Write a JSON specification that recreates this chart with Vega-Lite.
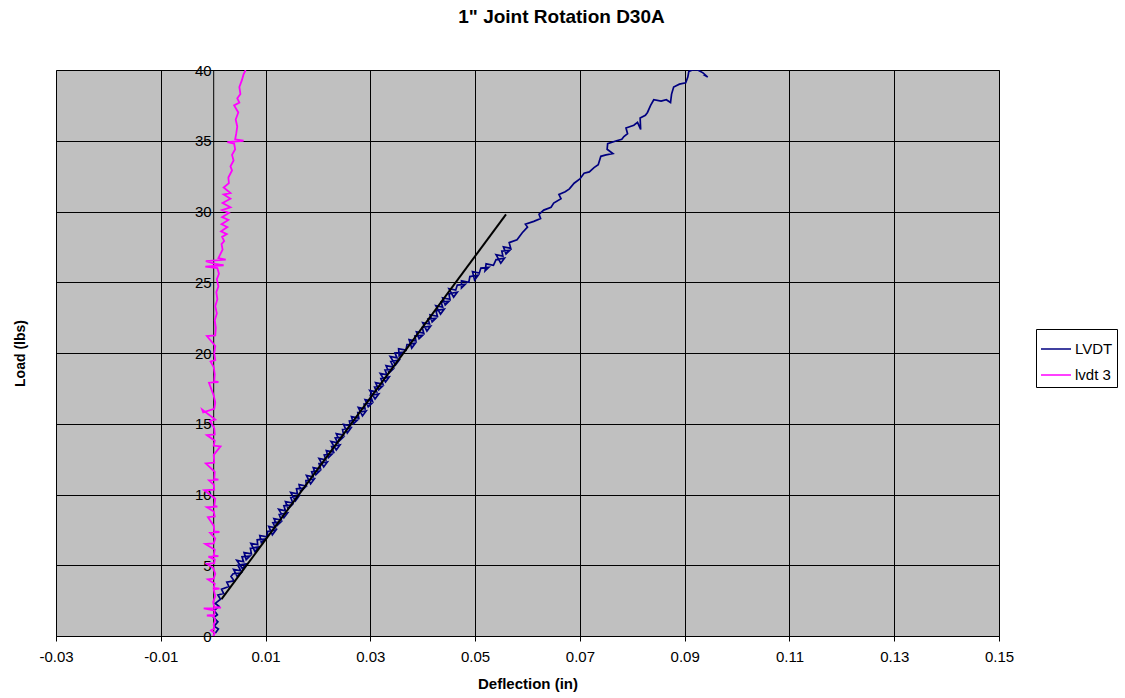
{
"$schema": "https://vega.github.io/schema/vega-lite/v6.json",
"width": 943, "height": 566,
"autosize": {"type": "none"},
"padding": {"left": 56, "top": 70, "right": 126, "bottom": 62},
"background": "white",
"title": {"text": "1\" Joint Rotation D30A", "font": "Liberation Sans", "fontSize": 19, "fontWeight": "bold", "color": "black", "anchor": "middle", "dx": 34, "offset": 21, "baseline": "alphabetic"},
"config": {"view": {"fill": "#C0C0C0", "stroke": "#808080", "strokeWidth": 1}, "font": "Liberation Sans"},
"datasets": {
"lvdt": [
{"x":0.0004,"y":0.2},{"x":0.0010,"y":0.5},{"x":0.0002,"y":0.7},{"x":0.0009,"y":1.0},{"x":0.0001,"y":1.3},{"x":0.0008,"y":1.5},{"x":0.0002,"y":1.8},{"x":0.0011,"y":2.1},{"x":0.0004,"y":2.3},{"x":0.0014,"y":2.6},{"x":0.0009,"y":2.9},{"x":0.0020,"y":3.0},{"x":0.0016,"y":3.3},{"x":0.0030,"y":3.5},{"x":0.0026,"y":3.8},{"x":0.0040,"y":3.9},{"x":0.0034,"y":4.2},
{"x":0.0038,"y":4.4},{"x":0.0053,"y":4.45},{"x":0.0046,"y":4.2},{"x":0.0039,"y":4.7},{"x":0.0053,"y":4.6},
{"x":0.0047,"y":5.0},{"x":0.0063,"y":5.1},{"x":0.0056,"y":4.75},{"x":0.0045,"y":5.35},{"x":0.0058,"y":5.25},
{"x":0.0055,"y":5.6},{"x":0.0070,"y":5.65},{"x":0.0063,"y":5.4},{"x":0.0059,"y":5.9},{"x":0.0073,"y":5.8},
{"x":0.0071,"y":6.2},{"x":0.0087,"y":6.3},{"x":0.0080,"y":5.95},{"x":0.0072,"y":6.55},{"x":0.0085,"y":6.45},
{"x":0.0084,"y":6.8},{"x":0.0099,"y":6.85},{"x":0.0092,"y":6.6},{"x":0.0089,"y":7.1},{"x":0.0103,"y":7.0},
{"x":0.0104,"y":7.4},{"x":0.0120,"y":7.5},{"x":0.0113,"y":7.15},{"x":0.0106,"y":7.75},{"x":0.0119,"y":7.65},
{"x":0.0114,"y":8.0},{"x":0.0129,"y":8.05},{"x":0.0122,"y":7.8},{"x":0.0116,"y":8.3},{"x":0.0130,"y":8.2},
{"x":0.0126,"y":8.6},{"x":0.0142,"y":8.7},{"x":0.0135,"y":8.35},{"x":0.0125,"y":8.95},{"x":0.0138,"y":8.85},
{"x":0.0135,"y":9.2},{"x":0.0150,"y":9.25},{"x":0.0143,"y":9.0},{"x":0.0138,"y":9.5},{"x":0.0152,"y":9.4},
{"x":0.0148,"y":9.8},{"x":0.0164,"y":9.9},{"x":0.0157,"y":9.55},{"x":0.0148,"y":10.15},{"x":0.0161,"y":10.05},
{"x":0.0159,"y":10.4},{"x":0.0174,"y":10.45},{"x":0.0167,"y":10.2},{"x":0.0164,"y":10.7},{"x":0.0178,"y":10.6},
{"x":0.0177,"y":11.0},{"x":0.0193,"y":11.1},{"x":0.0186,"y":10.75},{"x":0.0178,"y":11.35},{"x":0.0191,"y":11.25},
{"x":0.0188,"y":11.6},{"x":0.0203,"y":11.65},{"x":0.0196,"y":11.4},{"x":0.0191,"y":11.9},{"x":0.0205,"y":11.8},
{"x":0.0202,"y":12.2},{"x":0.0218,"y":12.3},{"x":0.0211,"y":11.95},{"x":0.0202,"y":12.55},{"x":0.0215,"y":12.45},
{"x":0.0212,"y":12.8},{"x":0.0227,"y":12.85},{"x":0.0220,"y":12.6},{"x":0.0216,"y":13.1},{"x":0.0230,"y":13.0},
{"x":0.0226,"y":13.4},{"x":0.0242,"y":13.5},{"x":0.0235,"y":13.15},{"x":0.0225,"y":13.75},{"x":0.0238,"y":13.65},
{"x":0.0233,"y":14.0},{"x":0.0248,"y":14.05},{"x":0.0241,"y":13.8},{"x":0.0235,"y":14.3},{"x":0.0249,"y":14.2},
{"x":0.0247,"y":14.6},{"x":0.0263,"y":14.7},{"x":0.0256,"y":14.35},{"x":0.0249,"y":14.95},{"x":0.0262,"y":14.85},
{"x":0.0260,"y":15.2},{"x":0.0275,"y":15.25},{"x":0.0268,"y":15.0},{"x":0.0264,"y":15.5},{"x":0.0278,"y":15.4},
{"x":0.0276,"y":15.8},{"x":0.0292,"y":15.9},{"x":0.0285,"y":15.55},{"x":0.0277,"y":16.15},{"x":0.0290,"y":16.05},
{"x":0.0288,"y":16.4},{"x":0.0303,"y":16.45},{"x":0.0296,"y":16.2},{"x":0.0290,"y":16.7},{"x":0.0304,"y":16.6},
{"x":0.0300,"y":17.0},{"x":0.0316,"y":17.1},{"x":0.0309,"y":16.75},{"x":0.0299,"y":17.35},{"x":0.0312,"y":17.25},
{"x":0.0308,"y":17.6},{"x":0.0323,"y":17.65},{"x":0.0316,"y":17.4},{"x":0.0310,"y":17.9},{"x":0.0324,"y":17.8},
{"x":0.0320,"y":18.2},{"x":0.0336,"y":18.3},{"x":0.0329,"y":17.95},{"x":0.0319,"y":18.55},{"x":0.0332,"y":18.45},
{"x":0.0328,"y":18.8},{"x":0.0343,"y":18.85},{"x":0.0336,"y":18.6},{"x":0.0330,"y":19.1},{"x":0.0344,"y":19.0},
{"x":0.0339,"y":19.4},{"x":0.0355,"y":19.5},{"x":0.0348,"y":19.15},{"x":0.0338,"y":19.75},{"x":0.0351,"y":19.65},
{"x":0.0347,"y":20.0},{"x":0.0362,"y":20.05},{"x":0.0355,"y":19.8},{"x":0.0354,"y":20.3},{"x":0.0368,"y":20.2},
{"x":0.0370,"y":20.6},{"x":0.0386,"y":20.7},{"x":0.0379,"y":20.35},{"x":0.0374,"y":20.95},{"x":0.0387,"y":20.85},
{"x":0.0385,"y":21.2},{"x":0.0400,"y":21.25},{"x":0.0393,"y":21.0},{"x":0.0388,"y":21.5},{"x":0.0402,"y":21.4},
{"x":0.0399,"y":21.8},{"x":0.0415,"y":21.9},{"x":0.0408,"y":21.55},{"x":0.0400,"y":22.15},{"x":0.0413,"y":22.05},
{"x":0.0410,"y":22.4},{"x":0.0425,"y":22.45},{"x":0.0418,"y":22.2},{"x":0.0414,"y":22.7},{"x":0.0428,"y":22.6},
{"x":0.0425,"y":23.0},{"x":0.0441,"y":23.1},{"x":0.0434,"y":22.75},{"x":0.0425,"y":23.35},{"x":0.0438,"y":23.25},
{"x":0.0435,"y":23.6},{"x":0.0450,"y":23.65},{"x":0.0443,"y":23.4},{"x":0.0438,"y":23.9},{"x":0.0452,"y":23.8},
{"x":0.0450,"y":24.2},{"x":0.0466,"y":24.3},{"x":0.0459,"y":23.95},{"x":0.0450,"y":24.55},{"x":0.0463,"y":24.45},
{"x":0.0466,"y":24.8},{"x":0.0481,"y":24.85},{"x":0.0474,"y":24.6},{"x":0.0474,"y":25.1},{"x":0.0488,"y":25.0},
{"x":0.0490,"y":25.4},{"x":0.0506,"y":25.5},{"x":0.0499,"y":25.15},{"x":0.0495,"y":25.75},{"x":0.0508,"y":25.65},
{"x":0.0511,"y":26.0},{"x":0.0526,"y":26.05},{"x":0.0519,"y":25.8},{"x":0.0521,"y":26.3},{"x":0.0535,"y":26.2},
{"x":0.0540,"y":26.6},{"x":0.0556,"y":26.7},{"x":0.0549,"y":26.35},{"x":0.0540,"y":26.95},{"x":0.0553,"y":26.85},
{"x":0.0551,"y":27.2},{"x":0.0566,"y":27.25},{"x":0.0559,"y":27.0},{"x":0.0554,"y":27.5},{"x":0.0568,"y":27.4},
{"x":0.0565,"y":27.8},{"x":0.0580,"y":28.0},{"x":0.0590,"y":28.5},{"x":0.0600,"y":28.9},{"x":0.0596,"y":29.1},{"x":0.0612,"y":29.3},{"x":0.0625,"y":29.5},{"x":0.0622,"y":29.8},{"x":0.0631,"y":30.1},{"x":0.0645,"y":30.3},{"x":0.0650,"y":30.6},{"x":0.0664,"y":30.9},{"x":0.0660,"y":31.2},{"x":0.0672,"y":31.4},{"x":0.0680,"y":31.6},{"x":0.0689,"y":32.0},{"x":0.0700,"y":32.3},{"x":0.0708,"y":32.7},{"x":0.0718,"y":32.8},{"x":0.0727,"y":33.1},{"x":0.0735,"y":33.3},{"x":0.0740,"y":33.9},{"x":0.0750,"y":34.0},{"x":0.0763,"y":34.1},{"x":0.0752,"y":34.4},{"x":0.0753,"y":34.8},{"x":0.0770,"y":35.0},{"x":0.0780,"y":35.1},{"x":0.0784,"y":35.3},{"x":0.0791,"y":35.5},{"x":0.0788,"y":35.9},{"x":0.0803,"y":36.1},{"x":0.0810,"y":36.3},{"x":0.0816,"y":35.8},{"x":0.0815,"y":36.6},{"x":0.0825,"y":36.8},{"x":0.0829,"y":37.0},{"x":0.0835,"y":37.5},{"x":0.0841,"y":37.9},{"x":0.0855,"y":37.8},{"x":0.0865,"y":37.9},{"x":0.0873,"y":37.7},{"x":0.0875,"y":38.3},{"x":0.0879,"y":38.8},{"x":0.0890,"y":39.0},{"x":0.0902,"y":39.1},{"x":0.0906,"y":39.5},{"x":0.0908,"y":39.9},{"x":0.0915,"y":40.0},{"x":0.0925,"y":40.0},{"x":0.0935,"y":39.8},{"x":0.0944,"y":39.5},{"x":0.0935,"y":39.7}
],
"lvdt3": [
{"x":0.0000,"y":0.0},{"x":0.0003,"y":0.2},{"x":-0.0004,"y":0.4},{"x":0.0002,"y":0.5},{"x":0.0001,"y":0.8},{"x":0.0004,"y":1.1},{"x":0.0001,"y":1.4},{"x":-0.0012,"y":1.45},{"x":0.0002,"y":1.5},{"x":0.0003,"y":1.8},{"x":-0.0018,"y":1.95},{"x":0.0015,"y":2.0},{"x":0.0002,"y":2.05},{"x":0.0000,"y":2.4},{"x":0.0004,"y":2.8},{"x":0.0001,"y":3.3},{"x":0.0012,"y":3.35},{"x":0.0001,"y":3.4},{"x":0.0003,"y":3.7},{"x":-0.0010,"y":4.0},{"x":0.0001,"y":4.05},{"x":0.0004,"y":4.4},{"x":0.0000,"y":4.8},{"x":-0.0012,"y":5.1},{"x":0.0002,"y":5.15},{"x":0.0003,"y":5.4},{"x":-0.0009,"y":5.6},{"x":0.0010,"y":5.65},{"x":0.0001,"y":5.7},{"x":0.0003,"y":6.1},{"x":-0.0015,"y":6.5},{"x":0.0001,"y":6.55},{"x":0.0004,"y":6.9},{"x":-0.0006,"y":7.3},{"x":0.0012,"y":7.35},{"x":0.0002,"y":7.4},{"x":0.0001,"y":7.8},{"x":-0.0010,"y":8.4},{"x":0.0003,"y":8.45},{"x":0.0001,"y":8.8},{"x":-0.0012,"y":9.1},{"x":0.0008,"y":9.15},{"x":0.0002,"y":9.2},{"x":0.0004,"y":9.7},{"x":-0.0017,"y":10.3},{"x":0.0002,"y":10.35},{"x":0.0001,"y":10.7},{"x":-0.0008,"y":11.0},{"x":0.0010,"y":11.05},{"x":0.0002,"y":11.1},{"x":0.0003,"y":11.6},{"x":-0.0014,"y":12.2},{"x":0.0002,"y":12.25},{"x":0.0001,"y":12.8},{"x":0.0014,"y":13.4},{"x":0.0001,"y":13.45},{"x":0.0003,"y":13.8},{"x":-0.0012,"y":14.2},{"x":0.0003,"y":14.25},{"x":0.0002,"y":14.7},{"x":-0.0006,"y":15.2},{"x":0.0004,"y":15.3},{"x":-0.0021,"y":16.0},{"x":-0.0019,"y":15.8},{"x":0.0002,"y":16.05},{"x":0.0004,"y":16.5},{"x":0.0001,"y":17.0},{"x":-0.0008,"y":17.9},{"x":0.0010,"y":17.95},{"x":0.0002,"y":18.0},{"x":0.0003,"y":18.5},{"x":0.0001,"y":19.0},{"x":-0.0005,"y":19.4},{"x":0.0004,"y":19.5},{"x":0.0002,"y":20.0},{"x":0.0004,"y":20.5},{"x":-0.0012,"y":21.2},{"x":0.0004,"y":21.25},{"x":0.0005,"y":21.8},{"x":0.0003,"y":22.3},{"x":0.0007,"y":22.8},{"x":0.0004,"y":23.3},{"x":0.0008,"y":23.8},{"x":0.0006,"y":24.3},{"x":0.0010,"y":24.7},{"x":0.0007,"y":25.2},{"x":0.0011,"y":25.6},{"x":0.0008,"y":26.0},{"x":-0.0015,"y":26.1},{"x":0.0020,"y":26.2},{"x":0.0004,"y":26.3},{"x":-0.0014,"y":26.5},{"x":0.0024,"y":26.6},{"x":0.0010,"y":26.7},{"x":0.0014,"y":27.0},{"x":0.0018,"y":27.3},{"x":0.0016,"y":27.7},{"x":0.0021,"y":27.9},{"x":0.0017,"y":28.2},{"x":0.0026,"y":28.4},{"x":0.0015,"y":28.6},{"x":0.0027,"y":28.9},{"x":0.0016,"y":29.1},{"x":0.0029,"y":29.4},{"x":0.0017,"y":29.6},{"x":0.0030,"y":29.9},{"x":0.0017,"y":30.1},{"x":0.0033,"y":30.3},{"x":0.0018,"y":30.6},{"x":0.0033,"y":30.9},{"x":0.0020,"y":31.2},{"x":0.0033,"y":31.3},{"x":0.0020,"y":31.7},{"x":0.0030,"y":32.0},{"x":0.0029,"y":32.4},{"x":0.0036,"y":32.9},{"x":0.0033,"y":33.2},{"x":0.0039,"y":33.6},{"x":0.0036,"y":34.0},{"x":0.0042,"y":34.4},{"x":0.0040,"y":34.8},{"x":0.0027,"y":34.9},{"x":0.0058,"y":35.0},{"x":0.0042,"y":35.1},{"x":0.0044,"y":35.5},{"x":0.0046,"y":36.0},{"x":0.0043,"y":36.5},{"x":0.0048,"y":37.0},{"x":0.0040,"y":37.5},{"x":0.0050,"y":37.7},{"x":0.0046,"y":38.0},{"x":0.0052,"y":38.3},{"x":0.0050,"y":38.8},{"x":0.0055,"y":39.3},{"x":0.0058,"y":39.7},{"x":0.0062,"y":40.0}
],
"fit": [{"x":0.0016,"y":2.6},{"x":0.0559,"y":29.8}]
},
"layer": [
{
"data": {"name": "lvdt"},
"transform": [{"calculate": "'LVDT'", "as": "s"}],
"mark": {"type": "line", "strokeWidth": 1.7, "clip": true},
"encoding": {
"x": {"field": "x", "type": "quantitative", "scale": {"domain": [-0.03, 0.15], "nice": false, "zero": false},
 "axis": {"title": "Deflection (in)", "values": [-0.03,-0.01,0.01,0.03,0.05,0.07,0.09,0.11,0.13,0.15], "format": ".2f", "labelExpr": "replace(datum.label, '\u2212', '-')", "grid": true, "gridColor": "black", "gridOpacity": 1, "domainColor": "black", "tickColor": "black", "tickSize": 5, "labelFont": "Liberation Sans", "labelFontSize": 15, "labelColor": "black", "labelPadding": 8, "labelFlush": false, "labelOverlap": false, "titleFont": "Liberation Sans", "titleFontSize": 15, "titleFontWeight": "bold", "titleColor": "black", "titlePadding": 12}},
"y": {"field": "y", "type": "quantitative", "scale": {"domain": [0, 40], "nice": false},
 "axis": {"title": "Load (lbs)", "values": [0,5,10,15,20,25,30,35,40], "offset": -157.2, "grid": true, "gridColor": "black", "gridOpacity": 1, "domainColor": "black", "ticks": false, "labelFont": "Liberation Sans", "labelFontSize": 15, "labelColor": "black", "labelPadding": 2, "labelFlush": false, "labelOverlap": false, "titleFont": "Liberation Sans", "titleFontSize": 14, "titleFontWeight": "bold", "titleColor": "black", "titleAngle": -90, "titleX": -193, "titleY": 283, "titleAlign": "center", "titleBaseline": "middle"}},
"color": {"field": "s", "type": "nominal", "scale": {"domain": ["LVDT", "lvdt 3"], "range": ["#000080", "#FF00FF"]},
 "legend": {"title": null, "orient": "none", "legendX": 980, "legendY": 259, "strokeColor": "black", "fillColor": "white", "padding": 4, "symbolType": "stroke", "symbolSize": 900, "symbolStrokeWidth": 1.5, "labelFont": "Liberation Sans", "labelFontSize": 15, "labelColor": "black", "labelOffset": 3, "rowPadding": 2}},
"order": {"value": null}
}
},
{
"data": {"name": "lvdt3"},
"transform": [{"calculate": "'lvdt 3'", "as": "s"}],
"mark": {"type": "line", "strokeWidth": 1.8, "clip": true},
"encoding": {
"x": {"field": "x", "type": "quantitative"},
"y": {"field": "y", "type": "quantitative"},
"color": {"field": "s", "type": "nominal"},
"order": {"value": null}
}
},
{
"data": {"name": "fit"},
"mark": {"type": "line", "strokeWidth": 2, "color": "black"},
"encoding": {
"x": {"field": "x", "type": "quantitative"},
"y": {"field": "y", "type": "quantitative"}
}
}
]
}
